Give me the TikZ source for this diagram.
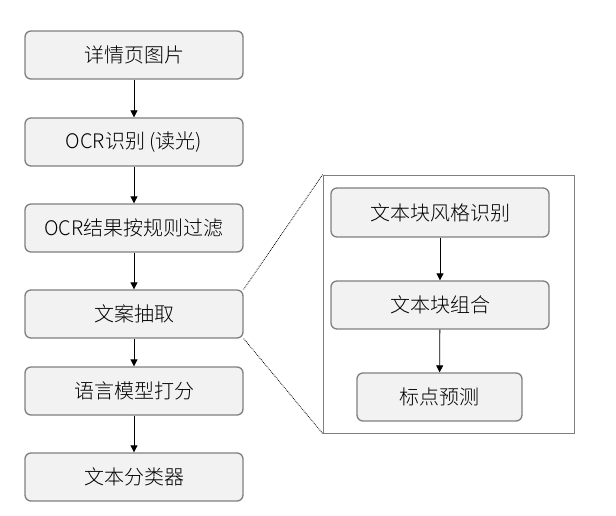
\documentclass[tikz,border=0pt]{standalone}
\usepackage{fontspec}
\setmainfont{Noto Sans CJK SC Light}
\usetikzlibrary{arrows.meta}
\definecolor{boxfill}{HTML}{F2F2F2}
\definecolor{boxline}{HTML}{7F7F7F}
\tikzset{
  stepbox/.style={draw=boxline, line width=1.3pt, fill=boxfill, rounded corners=6pt, inner sep=0pt, font=\fontsize{20}{24}\selectfont},
  flow/.style={-{Triangle[length=7pt,width=7pt]}, line width=0.8pt, black},
  zoomline/.style={densely dotted, line width=0.8pt, black}
}
\begin{document}
\begin{tikzpicture}[x=1pt,y=-1pt]
\useasboundingbox (0,0) rectangle (616,516);
% left column
\node[stepbox, minimum width=218pt, minimum height=48pt] (a) at (134,55) {详情页图片};
\node[stepbox, minimum width=218pt, minimum height=48pt] (b) at (134,142) {OCR识别 (读光)};
\node[stepbox, minimum width=218pt, minimum height=48pt] (c) at (134,228) {OCR结果按规则过滤};
\node[stepbox, minimum width=218pt, minimum height=48pt] (d) at (134,314) {文案抽取};
\node[stepbox, minimum width=218pt, minimum height=48pt] (e) at (134,391) {语言模型打分};
\node[stepbox, minimum width=218pt, minimum height=48pt] (f) at (134,477) {文本分类器};
\draw[flow] (a) -- (b);
\draw[flow] (b) -- (c);
\draw[flow] (c) -- (d);
\draw[flow] (d) -- (e);
\draw[flow] (e) -- (f);
% right frame
\node[draw=boxline, line width=0.8pt, minimum width=251pt, minimum height=258pt, inner sep=0pt] (frame) at (448.5,304) {};
\node[stepbox, minimum width=218pt, minimum height=49pt] (g) at (440,212.5) {文本块风格识别};
\node[stepbox, minimum width=218pt, minimum height=48pt] (h) at (440,305) {文本块组合};
\node[stepbox, minimum width=165pt, minimum height=48pt] (i) at (439.5,397) {标点预测};
\draw[flow] (g) -- (h);
\draw[flow] (h) -- (i);
\draw[zoomline] (d.north east) -- (frame.north west);
\draw[zoomline] (d.south east) -- (frame.south west);
\end{tikzpicture}
\end{document}
